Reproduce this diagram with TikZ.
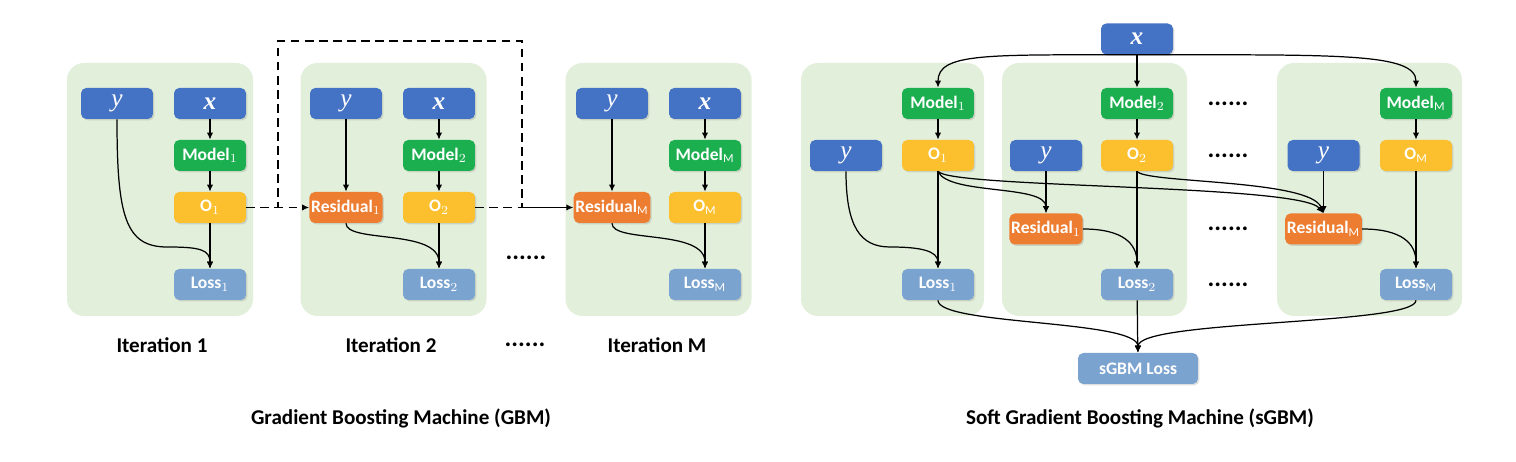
\documentclass[tikz,border=0pt]{standalone}
\usepackage{fontspec}
\setmainfont{Carlito}
\newfontfamily\varserif{Liberation Serif}
\usetikzlibrary{arrows.meta,shadows}

\definecolor{inblue}{HTML}{4472C4}
\definecolor{modelgreen}{HTML}{1CAF50}
\definecolor{outyellow}{HTML}{FCBF2D}
\definecolor{resorange}{HTML}{ED7D31}
\definecolor{lossblue}{HTML}{7BA3CF}
\definecolor{panelgreen}{HTML}{E2EFDA}

\tikzset{
  blockbox/.style={rounded corners=3pt, minimum width=1.44cm, minimum height=0.62cm,
    inner sep=1pt, text=white, font=\bfseries,
    drop shadow={shadow xshift=0.8pt,shadow yshift=-0.8pt,opacity=0.25}},
  inbox/.style={blockbox, fill=inblue, font=\varserif\itshape\Large},
  modelbox/.style={blockbox, fill=modelgreen},
  outbox/.style={blockbox, fill=outyellow},
  resbox/.style={blockbox, fill=resorange},
  lossbox/.style={blockbox, fill=lossblue},
  panelbg/.style={fill=panelgreen, rounded corners=0.34cm},
  arr/.style={-{Latex[length=4pt,width=3.6pt]}, line width=0.7pt},
  dashline/.style={line width=0.7pt, dash pattern=on 5pt off 3pt},
  dasharr/.style={arr, dash pattern=on 5pt off 3pt},
  caplabel/.style={font=\fontsize{12}{14}\selectfont\bfseries},
  dotrow/.style={font=\Large\bfseries}
}

\begin{document}
\begin{tikzpicture}[x=0.02cm,y=0.02cm]
    \useasboundingbox (0,0) rectangle (1516,462);

    % ---------- GBM ----------
    \foreach \cx in {160,393.5,658.5}
        \fill[panelbg] (\cx-93,146) rectangle (\cx+93,399);

    \node[inbox] (gy1) at (117,358.5) {y};
    \node[inbox] (gx1) at (210,358.5) {\textbf{x}};
    \node[modelbox] (gm1) at (210,306.5) {Model$_1$};
    \node[outbox] (go1) at (210,254.5) {O$_1$};
    \node[lossbox] (gl1) at (210,177.5) {Loss$_1$};

    \node[inbox] (gy2) at (346,358.5) {y};
    \node[inbox] (gx2) at (439,358.5) {\textbf{x}};
    \node[modelbox] (gm2) at (439,306.5) {Model$_2$};
    \node[resbox] (gr1) at (346,254.5) {Residual$_1$};
    \node[outbox] (go2) at (439,254.5) {O$_2$};
    \node[lossbox] (gl2) at (439,177.5) {Loss$_2$};

    \node[inbox] (gy3) at (612,358.5) {y};
    \node[inbox] (gx3) at (705,358.5) {\textbf{x}};
    \node[modelbox] (gm3) at (705,306.5) {Model$_\mathrm{M}$};
    \node[resbox] (gr3) at (612,254.5) {Residual$_\mathrm{M}$};
    \node[outbox] (go3) at (705,254.5) {O$_\mathrm{M}$};
    \node[lossbox] (gl3) at (705,177.5) {Loss$_\mathrm{M}$};

    \draw[arr] (gx1) -- (gm1);
    \draw[arr] (gm1) -- (go1);
    \draw[arr] (go1) -- (gl1);
    \coordinate (gb1) at (167,215);
    \draw[arr] (gy1.south) .. controls +(0,-96) and +(-42,0) .. (gb1)
        .. controls +(33,0) and +(0,19) .. (gl1.north);

    \draw[arr] (gx2) -- (gm2);
    \draw[arr] (gm2) -- (go2);
    \draw[arr] (go2) -- (gl2);
    \draw[arr] (gy2) -- (gr1);
    \draw[arr] (gr1.south) .. controls +(0,-20) and +(0,40) .. (gl2.north);

    \draw[arr] (gx3) -- (gm3);
    \draw[arr] (gm3) -- (go3);
    \draw[arr] (go3) -- (gl3);
    \draw[arr] (gy3) -- (gr3);
    \draw[arr] (gr3.south) .. controls +(0,-20) and +(0,40) .. (gl3.north);

    % dashed hand-over between iterations
    \coordinate (up1) at (278,421);
    \coordinate (up2) at (522,421);
    \coordinate (join) at (522,254.5);
    \draw[dasharr] (go1) -- (gr1);
    \draw[dashline] (go1.east) -| (up1) -- (up2) -- (join);
    \draw[dashline] (go2.east) -- (join);
    \draw[arr] (join) -- (gr3.west);

    \node[dotrow] (gdots) at (526,204) {......};
    \node[caplabel] (it1) at (162,117) {Iteration 1};
    \node[caplabel] (it2) at (391,117) {Iteration 2};
    \node[dotrow] (itdots) at (525,117) {......};
    \node[caplabel] (itm) at (657,117) {Iteration M};
    \node[caplabel] (gbm) at (401,44) {Gradient Boosting Machine (GBM)};

    % ---------- sGBM ----------
    \fill[panelbg] (801,146) rectangle (984,399);
    \fill[panelbg] (1002,146) rectangle (1187,399);
    \fill[panelbg] (1277,146) rectangle (1462,399);

    \node[inbox] (sx) at (1137,423) {\textbf{x}};

    \node[modelbox] (sm1) at (938,358.5) {Model$_1$};
    \node[inbox] (sy1) at (846,306.5) {y};
    \node[outbox] (so1) at (938,306.5) {O$_1$};
    \node[lossbox] (sl1) at (938,177.5) {Loss$_1$};

    \node[modelbox] (sm2) at (1137,358.5) {Model$_2$};
    \node[inbox] (sy2) at (1046,306.5) {y};
    \node[outbox] (so2) at (1137,306.5) {O$_2$};
    \node[resbox] (sr1) at (1046,233) {Residual$_1$};
    \node[lossbox] (sl2) at (1137,177.5) {Loss$_2$};

    \node[modelbox] (sm3) at (1416,358.5) {Model$_\mathrm{M}$};
    \node[inbox] (sy3) at (1323.5,306.5) {y};
    \node[outbox] (so3) at (1416,306.5) {O$_\mathrm{M}$};
    \node[resbox] (sr3) at (1323.5,233) {Residual$_\mathrm{M}$};
    \node[lossbox] (sl3) at (1416,177.5) {Loss$_\mathrm{M}$};

    \node[lossbox, minimum width=2.4cm] (sloss) at (1138,93.5) {sGBM Loss};

    \foreach \yy in {358.5,306.5,233,177.5}
        \node[dotrow] at (1228,\yy) {......};

    \draw[arr] (sx.south) .. controls +(-150,0) and +(0,35) .. (sm1.north);
    \draw[arr] (sx) -- (sm2);
    \draw[arr] (sx.south) .. controls +(200,0) and +(0,35) .. (sm3.north);

    \draw[arr] (sm1) -- (so1);
    \draw[arr] (sm2) -- (so2);
    \draw[arr] (sm3) -- (so3);
    \draw[arr] (so1) -- (sl1);
    \draw[arr] (so2) -- (sl2);
    \draw[arr] (so3) -- (sl3);

    \coordinate (sb1) at (890,215);
    \draw[arr] (sy1.south) .. controls +(0,-55) and +(-30,0) .. (sb1)
        .. controls +(30,0) and +(0,18) .. (sl1.north);
    \draw[arr] (sy2) -- (sr1);
    \draw[arr] (sy3) -- (sr3);

    \draw[arr] (so1.south) .. controls +(10,-24) and +(0,29) .. (sr1.north);
    \draw[arr] (so1.south) .. controls +(12,-17) and +(-24,29) .. (sr3.north);
    \draw[arr] (so2.south) .. controls +(8,-12) and +(-14,34) .. (sr3.north);

    \draw[arr] (sr1.east) .. controls +(40,0) and +(0,25) .. (sl2.north);
    \draw[arr] (sr3.east) .. controls +(40,0) and +(0,25) .. (sl3.north);

    \draw[arr] (sl1.south) .. controls +(0,-25) and +(0,33) .. (sloss.north);
    \draw[arr] (sl2) -- (sloss);
    \draw[arr] (sl3.south) .. controls +(0,-25) and +(0,33) .. (sloss.north);

    \node[caplabel] (sgbm) at (1140,44) {Soft Gradient Boosting Machine (sGBM)};
\end{tikzpicture}
\end{document}
